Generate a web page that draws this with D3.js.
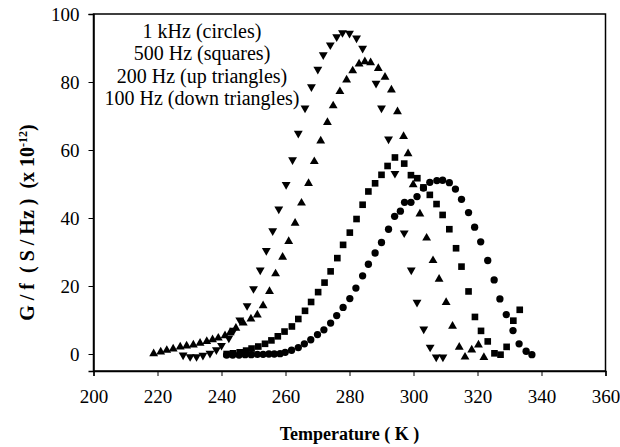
<!DOCTYPE html>
<html>
<head>
    <title>G/f vs temperature</title>
    <script src="https://d3js.org/d3.v7.min.js"></script>
    <style>
        body { margin: 0; background: #fff; }
        text { font-family: "Liberation Serif", "Times New Roman", serif; fill: #000; }
        .tick text { font-size: 19px; }
        .axis path, .axis line { stroke: #000; }
        .title { font-weight: bold; font-size: 18px; }
        .ytitle { font-weight: bold; font-size: 20px; white-space: pre; }
        .legend { font-size: 20px; }
    </style>
</head>
<body>
    <svg width="620" height="447"></svg>
    <script>
        // 1 kHz (circles)
        const t1k = [241.6, 243.5, 245.5, 247.4, 249.3, 251.2, 253.0, 254.8, 256.5, 258.3, 259.9, 261.9, 264.0, 265.9, 267.9, 270.0, 272.0, 274.1, 276.0, 278.0, 280.1, 282.0, 284.1, 285.9, 288.0, 290.0, 292.2, 294.1, 295.9, 297.2, 299.2, 301.1, 303.1, 305.1, 307.3, 309.1, 311.2, 313.1, 315.0, 317.2, 319.1, 321.0, 323.2, 325.2, 327.0, 329.0, 331.1, 333.0, 335.2, 337.0];
        const g1k = [-0.3, -0.3, -0.3, -0.2, -0.2, -0.1, -0.1, 0, 0, 0.1, 0.5, 1.1, 1.9, 3.0, 4.2, 5.7, 7.1, 9.1, 11.3, 13.7, 16.3, 19.4, 23.0, 26.4, 29.7, 32.8, 36.7, 40.5, 42.0, 44.6, 44.6, 46.3, 48.8, 50.5, 51.0, 51.1, 50.4, 48.5, 45.5, 41.6, 37.3, 33.0, 27.5, 21.8, 16.2, 11.6, 6.9, 3.0, 0.8, -0.2];

        // 500 Hz (squares)
        const t500 = [241.6, 243.6, 245.7, 247.7, 249.4, 251.5, 253.6, 255.6, 257.6, 259.7, 262.0, 264.0, 266.1, 268.0, 270.2, 272.2, 274.1, 276.2, 278.0, 280.1, 282.2, 284.1, 285.9, 288.0, 290.0, 291.9, 294.2, 297.1, 299.2, 301.2, 303.1, 305.1, 307.2, 309.1, 311.2, 313.3, 315.0, 317.2, 319.2, 321.1, 323.2, 325.3, 327.2, 329.1, 331.2, 333.2];
        const g500 = [0, 0.2, 0.5, 1.0, 1.6, 2.2, 3.0, 4.0, 5.2, 6.6, 8.1, 10.3, 12.7, 15.3, 18.2, 21.0, 24.3, 28.2, 32.1, 35.7, 39.7, 43.9, 47.8, 50.2, 52.7, 55.3, 57.8, 56.0, 52.6, 51.7, 49.0, 46.8, 44.1, 40.9, 36.7, 31.1, 25.7, 18.4, 10.9, 6.8, 3.7, 0.2, -0.2, 2.1, 9.8, 13.0];

        // 200 Hz (up triangles)
        const t200 = [218.8, 221.0, 222.9, 224.9, 227.1, 229.1, 231.2, 233.3, 235.4, 237.2, 239.0, 241.1, 242.7, 244.5, 246.8, 249.2, 251.2, 253.0, 255.0, 256.9, 259.1, 261.0, 263.0, 265.0, 267.2, 269.0, 271.0, 273.1, 274.9, 277.0, 279.1, 281.0, 283.0, 284.8, 286.6, 289.0, 291.1, 293.1, 295.0, 296.9, 298.3, 299.9, 302.0, 304.1, 306.1, 308.0, 310.2, 312.2, 314.3, 316.1, 318.2, 320.3, 322.0];
        const g200 = [0.1, 0.6, 1.1, 1.5, 2.1, 2.4, 2.7, 3.2, 3.7, 4.2, 4.7, 5.4, 6.3, 7.6, 9.1, 10.3, 11.5, 14.2, 18.4, 23.6, 28.5, 33.1, 38.5, 44.4, 50.2, 56.6, 62.7, 68.1, 73.0, 77.2, 80.6, 83.3, 85.3, 86.0, 85.7, 84.0, 81.4, 77.7, 71.3, 64.0, 58.9, 49.8, 41.2, 34.1, 27.5, 22.0, 15.2, 8.2, 2.0, -0.9, 1.2, 2.7, -1.0];

        // 100 Hz (down triangles)
        const t100 = [228.0, 230.2, 232.2, 234.2, 236.4, 238.4, 240.0, 242.3, 243.8, 245.7, 248.0, 250.0, 252.1, 254.0, 256.0, 257.9, 260.2, 262.2, 264.0, 266.1, 268.1, 270.1, 271.8, 274.0, 276.0, 277.8, 280.0, 282.2, 284.1, 288.3, 290.0, 292.2, 294.2, 297.1, 299.3, 301.1, 303.2, 305.2, 307.1, 309.2];
        const g100 = [-0.3, -0.8, -0.8, -0.4, 0.2, 1.2, 2.5, 4.7, 7.0, 10.0, 14.2, 19.2, 24.7, 30.4, 36.2, 42.6, 49.8, 57.1, 64.9, 72.3, 78.6, 83.7, 88.0, 90.9, 93.3, 94.5, 94.3, 92.9, 89.9, 79.6, 72.3, 63.2, 53.1, 35.6, 24.7, 15.2, 7.3, 2.0, -0.9, -0.9];

        const xTicks = [200, 220, 240, 260, 280, 300, 320, 340, 360];
        const yTicks = [0, 20, 40, 60, 80, 100];
        const legendLines = ["1 kHz (circles)", "500 Hz (squares)", "200 Hz (up triangles)", "100 Hz (down triangles)"];

        const margin = { top: 14, right: 14.5, bottom: 76, left: 93.5 };
        const width = 620 - margin.left - margin.right;
        const height = 447 - margin.top - margin.bottom;

        const svg = d3.select("svg")
            .append("g")
            .attr("transform", `translate(${margin.left},${margin.top})`);

        const x = d3.scaleLinear().domain([200, 360]).range([0, width]);
        const y = d3.scaleLinear().domain([-5, 100]).range([height, 0]);

        // frame
        svg.append("rect")
            .attr("width", width)
            .attr("height", height)
            .attr("fill", "none")
            .attr("stroke", "#000")
            .attr("stroke-width", 1.5);

        svg.append("g")
            .attr("class", "axis")
            .attr("transform", `translate(0,${height})`)
            .call(d3.axisBottom(x).tickValues(xTicks).tickSize(5).tickPadding(14))
            .call(g => g.select(".domain").attr("stroke-width", 1.5));

        svg.append("g")
            .attr("class", "axis")
            .call(d3.axisLeft(y).tickValues(yTicks).tickSize(5).tickPadding(9))
            .call(g => g.select(".domain").attr("stroke-width", 1.5));

        const series = [
            { t: t1k, g: g1k, type: d3.symbolCircle, size: 42, rot: 0 },
            { t: t500, g: g500, type: d3.symbolSquare, size: 44, rot: 0 },
            { t: t200, g: g200, type: d3.symbolTriangle, size: 34, rot: 0 },
            { t: t100, g: g100, type: d3.symbolTriangle, size: 34, rot: 180 }
        ];

        series.forEach(s => {
            const pts = s.t.map((t, i) => ({ t: t, g: s.g[i] }));
            svg.append("g").selectAll("path")
                .data(pts)
                .enter().append("path")
                .attr("d", d3.symbol().type(s.type).size(s.size))
                .attr("transform", d => `translate(${x(d.t)},${y(d.g)}) rotate(${s.rot})`)
                .attr("fill", "#000");
        });

        // legend text
        svg.append("g").selectAll("text")
            .data(legendLines)
            .enter().append("text")
            .attr("class", "legend")
            .attr("x", 108.5)
            .attr("y", (d, i) => 24 + i * 22.4)
            .attr("text-anchor", "middle")
            .text(d => d);

        // axis titles
        svg.append("text")
            .attr("class", "title")
            .attr("x", width / 2)
            .attr("y", height + 69)
            .attr("text-anchor", "middle")
            .text("Temperature ( K )");

        const yt = svg.append("text")
            .attr("class", "ytitle")
            .attr("transform", `translate(-60,${height / 2 + 30}) rotate(-90)`)
            .attr("text-anchor", "middle");
        yt.append("tspan").text("G / f  ( S / Hz )  (x 10");
        yt.append("tspan").attr("font-size", "12px").attr("dy", -7).text("-12");
        yt.append("tspan").attr("dy", 7).text(")");
    </script>
</body>
</html>
